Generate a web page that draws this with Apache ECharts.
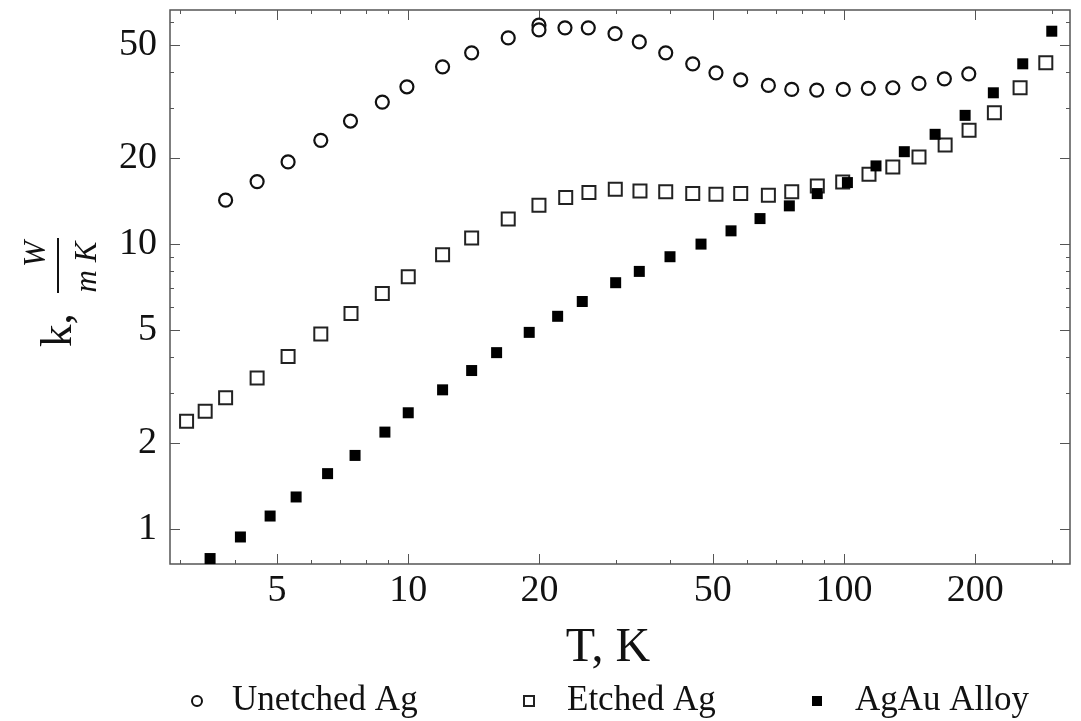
<!DOCTYPE html>
<html>
<head>
<meta charset="utf-8">
<script src="https://cdn.jsdelivr.net/npm/echarts@6/dist/echarts.min.js"></script>
<style>
html,body{margin:0;padding:0;background:#fff;}
#main{width:1081px;height:721px;}
</style>
</head>
<body>
<div id="main"></div>
<script>
// 数据 T (K) 与 k (W/mK)
var tUnetched = [3.81, 4.50, 5.30, 6.30, 7.37, 8.72, 9.93, 11.99, 13.98, 16.96, 19.95, 19.95, 22.89, 25.89, 29.82, 33.9, 38.98, 44.96, 50.83, 57.93, 67.05, 75.86, 86.55, 99.6, 113.7, 129.4, 148.6, 169.9, 193.3];
var kUnetched = [14.26, 16.57, 19.43, 23.13, 27.03, 31.51, 35.65, 41.88, 46.91, 52.9, 58.65, 56.44, 57.4, 57.4, 54.75, 51.24, 46.91, 42.92, 39.9, 37.72, 36.05, 34.91, 34.71, 34.91, 35.2, 35.37, 36.64, 38.02, 39.58];

var tEtched = [3.10, 3.42, 3.81, 4.50, 5.30, 6.30, 7.39, 8.72, 10.0, 11.99, 13.98, 16.96, 19.95, 22.98, 25.98, 29.86, 34.02, 38.98, 44.96, 50.83, 57.93, 67.05, 75.86, 86.83, 99.3, 114.1, 129.4, 148.6, 170.6, 193.6, 221.3, 253.5, 290.4];
var kEtched = [2.39, 2.59, 2.89, 3.39, 4.03, 4.84, 5.71, 6.71, 7.68, 9.17, 10.50, 12.24, 13.69, 14.56, 15.16, 15.58, 15.37, 15.25, 15.04, 14.97, 15.04, 14.84, 15.28, 16.0, 16.53, 17.59, 18.66, 20.23, 22.28, 25.08, 28.9, 35.37, 43.26];

var tAlloy = [3.51, 4.12, 4.82, 5.53, 6.53, 7.55, 8.84, 10.0, 11.99, 13.98, 15.95, 18.95, 22.02, 25.08, 29.92, 33.9, 39.87, 46.97, 55.04, 64.15, 74.9, 86.8, 101.8, 118.4, 137.5, 161.8, 189.6, 220.1, 257.1, 299.7];
var kAlloy = [0.788, 0.938, 1.111, 1.296, 1.565, 1.813, 2.189, 2.559, 3.08, 3.60, 4.16, 4.90, 5.58, 6.29, 7.32, 8.02, 9.03, 10.0, 11.13, 12.29, 13.62, 15.04, 16.44, 18.81, 21.1, 24.28, 28.3, 33.96, 42.92, 55.86];

var seriesNames = ['Unetched Ag', 'Etched Ag', 'AgAu Alloy'];

// 刻度
var xMajor = [5, 10, 20, 50, 100, 200];
var xMinor = [3, 4, 6, 7, 8, 9, 30, 40, 60, 70, 80, 90, 300];
var yMajor = [1, 2, 5, 10, 20, 50];
var yMinor = [3, 4, 6, 7, 8, 9, 30, 40, 60];
var xRange = [2.84, 330];
var yRange = [0.754, 66.3];

var FONT = '"Liberation Serif", "DejaVu Serif", serif';
var LOG = Math.log10;

function pairs(xs, ys) {
	return xs.map(function(x, i) { return [x, ys[i]]; });
}

// 刻度轴（对数空间里的数值轴，只画刻度和标签）
function tickAxis(pos, range, vals, len, withLabel) {
	var ax = {
		type: 'value',
		position: pos,
		min: LOG(range[0]),
		max: LOG(range[1]),
		axisLine: {show: false, onZero: false},
		splitLine: {show: false},
		axisTick: {
			inside: true,
			length: len,
			customValues: vals.map(LOG),
			lineStyle: {color: '#555', width: 1}
		},
		axisLabel: {show: false}
	};
	if (withLabel) {
		ax.axisLabel = {
			show: true,
			customValues: vals.map(LOG),
			formatter: function(v) { return String(Math.round(Math.pow(10, v))); },
			fontFamily: FONT,
			fontSize: 38,
			color: '#111',
			margin: pos == 'left' ? 13 : 8
		};
	}
	return ax;
}

var chart = echarts.init(document.getElementById('main'));

var xAxes = [
	{type: 'log', logBase: 10, min: xRange[0], max: xRange[1], show: false, axisLine: {onZero: false}},
	tickAxis('bottom', xRange, xMajor, 10, true),
	tickAxis('bottom', xRange, xMinor, 4, false),
	tickAxis('top', xRange, xMajor, 10, false),
	tickAxis('top', xRange, xMinor, 4, false)
];
xAxes[1].name = 'T, K';
xAxes[1].nameLocation = 'middle';
xAxes[1].nameGap = 60;
xAxes[1].nameTextStyle = {fontFamily: FONT, fontSize: 48, color: '#111', padding: [0, 24, 0, 0]};

var yAxes = [
	{type: 'log', logBase: 10, min: yRange[0], max: yRange[1], show: false, axisLine: {onZero: false}},
	tickAxis('left', yRange, yMajor, 10, true),
	tickAxis('left', yRange, yMinor, 4, false),
	tickAxis('right', yRange, yMajor, 10, false),
	tickAxis('right', yRange, yMinor, 4, false)
];

function legendAt(left, name, icon, pad) {
	return {
		left: left,
		top: 683,
		padding: 0,
		icon: icon,
		itemWidth: 10,
		itemHeight: 10,
		selectedMode: false,
		data: [name],
		textStyle: {fontFamily: FONT, fontSize: 35, color: '#111', lineHeight: 36, padding: [0, 0, 0, pad]}
	};
}

chart.setOption({
	animation: false,
	backgroundColor: '#fff',
	grid: {
		left: 170, right: 11, top: 10, bottom: 157,
		show: true,
		borderColor: '#555',
		borderWidth: 1.5,
		outerBoundsMode: 'none'
	},
	xAxis: xAxes,
	yAxis: yAxes,
	legend: [
		legendAt(191, seriesNames[0], 'circle', 25),
		legendAt(523, seriesNames[1], 'rect', 28),
		legendAt(812, seriesNames[2], 'rect', 28)
	],
	series: [{
		name: seriesNames[0],
		type: 'scatter',
		xAxisIndex: 0, yAxisIndex: 0,
		symbol: 'circle',
		symbolSize: 13,
		itemStyle: {color: '#fff', borderColor: '#111', borderWidth: 2.2, opacity: 1},
		data: pairs(tUnetched, kUnetched)
	}, {
		name: seriesNames[1],
		type: 'scatter',
		xAxisIndex: 0, yAxisIndex: 0,
		symbol: 'rect',
		symbolSize: 13,
		itemStyle: {color: '#fff', borderColor: '#222', borderWidth: 2, opacity: 1},
		data: pairs(tEtched, kEtched)
	}, {
		name: seriesNames[2],
		type: 'scatter',
		xAxisIndex: 0, yAxisIndex: 0,
		symbol: 'rect',
		symbolSize: 11,
		itemStyle: {color: '#000', opacity: 1},
		data: pairs(tAlloy, kAlloy)
	}],
	// 纵轴标题 k, W/(mK)，旋转90度
	graphic: [{
		type: 'group',
		x: 58, y: 300,
		rotation: Math.PI / 2,
		children: [{
			type: 'text',
			x: -47, y: 1.5,
			style: {text: 'k,', font: '45px ' + FONT, fill: '#111', textAlign: 'left', textVerticalAlign: 'middle'}
		}, {
			type: 'line',
			shape: {x1: 7, y1: 0, x2: 62, y2: 0},
			style: {stroke: '#111', lineWidth: 2}
		}, {
			type: 'text',
			x: 46, y: -21,
			style: {text: 'W', font: 'italic 31px ' + FONT, fill: '#111', textAlign: 'center', textVerticalAlign: 'middle'}
		}, {
			type: 'text',
			x: 33, y: 30,
			style: {text: 'm K', font: 'italic 31px ' + FONT, fill: '#111', textAlign: 'center', textVerticalAlign: 'middle'}
		}]
	}]
});
</script>
</body>
</html>
